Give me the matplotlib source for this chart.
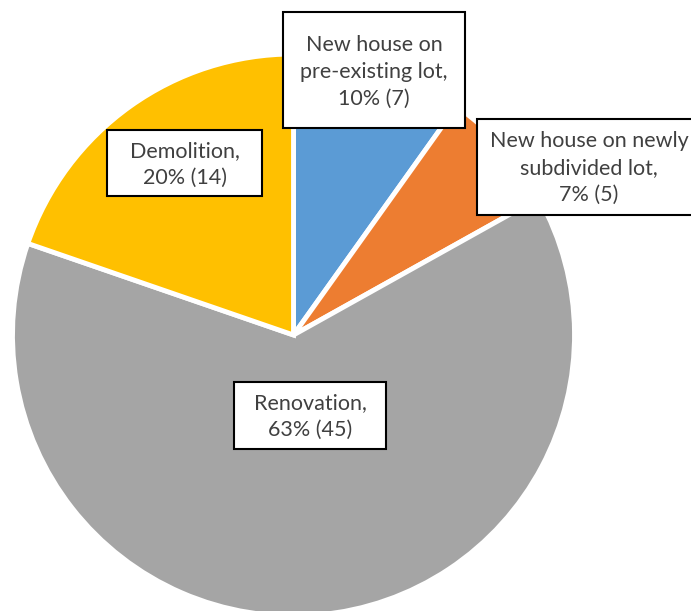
import matplotlib
matplotlib.use("Agg")
import matplotlib.pyplot as plt
from matplotlib.patches import Rectangle

categories = ["New house on\npre-existing lot,", "New house on newly\nsubdivided lot,",
              "Renovation,", "Demolition,"]
counts = [7, 5, 45, 14]
colors = ["#5B9BD5", "#ED7D31", "#A5A5A5", "#FFC000"]
# label boxes (left, top, right, bottom) in pixels from the top-left corner
label_boxes = [(283, 12, 465, 128), (477, 119, 703, 215),
               (234, 382, 386, 449), (107, 130, 262, 196)]
# text centres (x, y) in pixels
label_text = [(374, 72), (589, 168), (310, 416), (185, 164)]

W, H = 691, 611
plt.rcParams["font.family"] = ["Lato", "DejaVu Sans"]

fig = plt.figure(figsize=(W / 100, H / 100), dpi=100)
ax = fig.add_axes([0, 0, 1, 1])

ax.pie(counts, colors=colors, startangle=90, counterclock=False,
       center=(293.5, H - 335), radius=281,
       wedgeprops=dict(edgecolor="white", linewidth=3.5))

ax.set_xlim(0, W)
ax.set_ylim(0, H)
ax.set_aspect("equal")
ax.axis("off")

total = sum(counts)
for cat, n, (x0, y0, x1, y1), (tx, ty) in zip(categories, counts, label_boxes, label_text):
    ax.add_patch(Rectangle((x0, H - y1), x1 - x0, y1 - y0, fc="white",
                           ec="black", lw=1.5, zorder=3, clip_on=False))
    txt = f"{cat}\n{round(100 * n / total)}% ({n})"
    ax.text(tx, H - ty, txt, ha="center", va="center", fontsize=15.5,
            color="#404040", linespacing=1.42, zorder=4)

fig.savefig("out.png", dpi=100)
